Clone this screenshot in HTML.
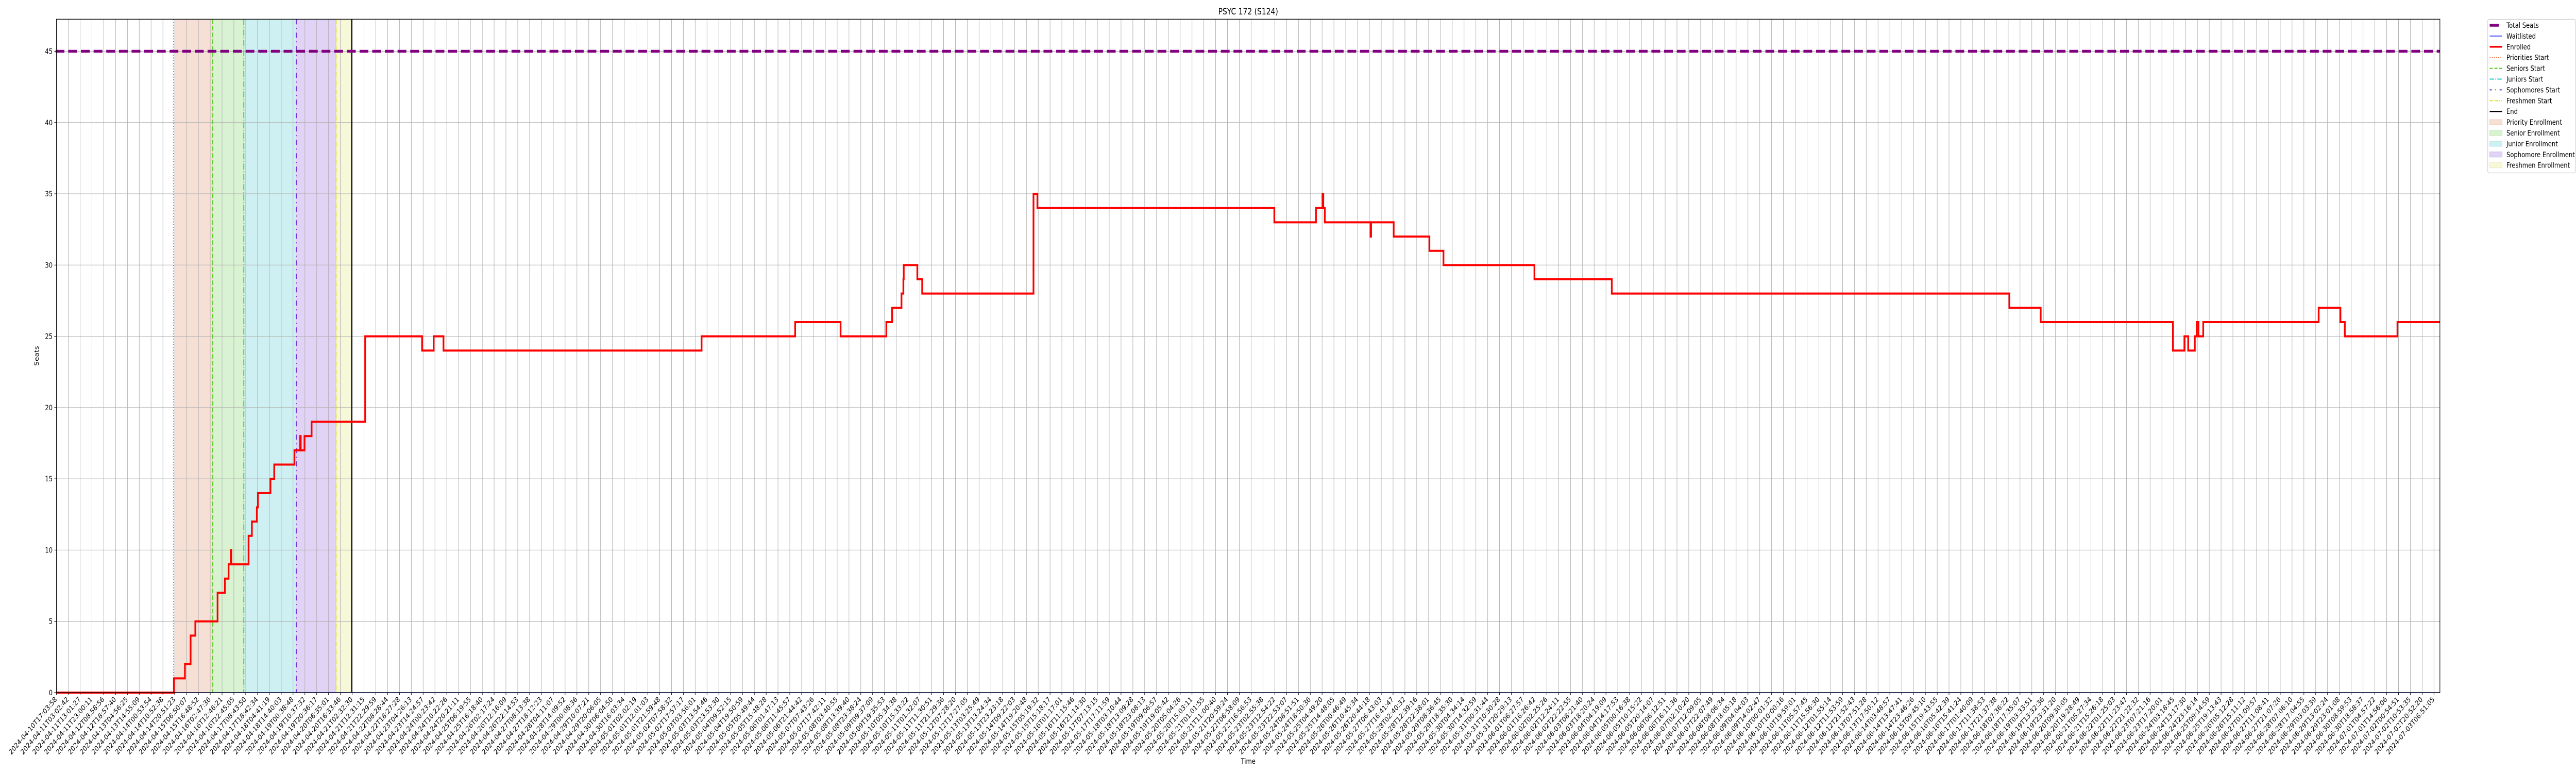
<!DOCTYPE html>
<html><head><meta charset="utf-8"><title>PSYC 172 (S124)</title>
<style>
html,body{margin:0;padding:0;background:#fff;width:100%;height:100%;overflow:hidden;}
body{font-family:"DejaVu Sans","Liberation Sans",sans-serif;}
#chart{display:block;width:100vw;height:100vh;}
svg text{font-family:"DejaVu Sans","Liberation Sans",sans-serif;fill:#000;}
</style></head>
<body>
<svg id="chart" xmlns="http://www.w3.org/2000/svg" viewBox="0 0 6000 1500" preserveAspectRatio="none">
<rect x="0" y="0" width="6000" height="1500" fill="#fff"/>
<g id="shades"></g><g id="grid"></g><g id="vlines"></g><g id="series"></g><g id="axes"></g><g id="legend"></g>
</svg>
<script>
// ---- data (x in tick-index units, y in seats) ----
const enrolledX = [0,9.93,10.86,11.34,11.74,13.62,14.24,14.55,14.74,14.78,16.24,16.52,16.94,17.03,18.09,18.41,20.12,20.60,20.65,20.97,21.57,26.10,30.91,31.89,32.72,54.54,62.45,66.29,70.16,70.65,71.44,71.60,71.63,72.78,73.19,82.60,82.93,102.96,106.48,107.03,107.10,107.23,111.10,111.14,113.05,116.07,117.26,124.95,131.49,165.10,167.75,178.93,179.90,180.22,180.78,180.94,181.09,181.49,191.25,193.09,193.46,197.91];
const enrolledY = [0,1,2,4,5,7,8,9,10,9,11,12,13,14,15,16,17,18,17,18,19,25,24,25,24,25,26,25,26,27,28,29,30,29,28,35,34,33,34,35,34,33,32,33,32,31,30,29,28,27,26,24,25,24,25,26,25,26,27,26,25,26];
const xEnd = 201.5;
const totalSeats = [45];
const waitlisted = [0];
const phaseNames = ["Priority","Senior","Junior","Sophomore","Freshmen"];
const phaseStart = [9.99,13.22,15.99,20.27,23.64];
const phaseEnd   = [13.22,15.99,20.27,23.64,24.97];
const markerX = [9.89,13.22,15.84,20.27,23.64,24.97];
const yTicks = [0,5,10,15,20,25,30,35,40,45];
const tickCount = 202;
const tickStart = "2024-04-10T17:03:58";
const tickEndLabel = "2024-07-03T06:51:05";

// ---- axes ----
const L=131.5,R=5683,T=37.3,B=1344;
const yMax=47.25, xMax=xEnd;
const xs=v=>L+(v/xMax)*(R-L);
const ys=v=>B-(v/yMax)*(B-T);
const NS="http://www.w3.org/2000/svg";
function mk(tag,attrs,parent){const e=document.createElementNS(NS,tag);for(const k in attrs)e.setAttribute(k,attrs[k]);parent.appendChild(e);return e;}
const gS=document.getElementById('shades'),gG=document.getElementById('grid'),gV=document.getElementById('vlines'),gSer=document.getElementById('series'),gA=document.getElementById('axes'),gL=document.getElementById('legend');

const shadeSolid=["#f6dfd5","#d9f3d2","#cef0f2","#e0d3f5","#f6f8d8"];
for(let i=0;i<phaseStart.length;i++){
  const r=mk('rect',{x:xs(phaseStart[i]),y:T,width:xs(phaseEnd[i])-xs(phaseStart[i]),height:B-T,fill:shadeSolid[i]},gS);
  
  
}
function labelAt(i){
  const t0=Date.parse(tickStart+"Z"),t1=Date.parse(tickEndLabel+"Z");
  const t=new Date(t0+(t1-t0)*i/(tickCount-1));
  return t.toISOString().slice(0,19);
}
for(let i=0;i<tickCount;i++){
  const x=xs(i);
  const g=mk('line',{x1:x,x2:x,y1:T,y2:B,stroke:"#b0b0b0","stroke-width":1.1},gG);
  
  
  const tk=mk('line',{x1:x,x2:x,y1:B,y2:B+5,stroke:"#000","stroke-width":1.1},gA);
  
  
  const tx=mk('text',{x:x+2,y:B+14,"font-size":13.9,"text-anchor":"end",transform:`rotate(-45 ${x+2} ${B+14})`},gA);
  tx.textContent=labelAt(i);
  
  
}
yTicks.forEach(v=>{
  const y=ys(v);
  const g=mk('line',{x1:L,x2:R,y1:y,y2:y,stroke:"#b0b0b0","stroke-width":1.1},gG);
  
  
  const tk=mk('line',{x1:L-5,x2:L,y1:y,y2:y,stroke:"#000","stroke-width":1.1},gA);
  
  
  const tx=mk('text',{x:L-9,y:y+5,"font-size":13.9,"text-anchor":"end"},gA);
  tx.textContent=String(v);
  
  
});
const mStyles=[
 {c:"#ee6a30",d:"2,3.3",w:2.2,n:"priorities-start-line"},
 {c:"#44cc11",d:"9,4",w:2.2,n:"seniors-start-line"},
 {c:"#11c8d2",d:"12,3,2,3",w:2.2,n:"juniors-start-line"},
 {c:"#6622d8",d:"10,7,2,7",w:2.2,n:"sophomores-start-line"},
 {c:"#dddd30",d:"10,2.5,2,2.5",w:2.2,n:"freshmen-start-line"},
 {c:"#000",d:"",w:2.8,n:"end-line"}];
markerX.forEach((v,i)=>{
  const s=mStyles[i];
  const a={x1:xs(v),x2:xs(v),y1:T,y2:B,stroke:s.c,"stroke-width":s.w};
  if(s.d)a["stroke-dasharray"]=s.d;
  const l=mk('line',a,gV);
  
  
});
const ts=mk('line',{x1:L-2,x2:R,y1:ys(totalSeats[0]),y2:ys(totalSeats[0]),stroke:"#800080","stroke-width":5.5,"stroke-dasharray":"20.5,9"},gSer);


const wl=mk('line',{x1:L,x2:R,y1:ys(waitlisted[0]),y2:ys(waitlisted[0]),stroke:"#2030ff","stroke-width":1.6},gSer);


let d=`M${xs(enrolledX[0])},${ys(enrolledY[0])}`;
for(let i=1;i<enrolledX.length;i++){d+=` H${xs(enrolledX[i])} V${ys(enrolledY[i])}`;}
d+=` H${xs(xEnd)}`;
const en=mk('path',{d:d,fill:"none",stroke:"#ff0000","stroke-width":4,"stroke-linejoin":"miter"},gSer);


const fr=mk('rect',{x:L,y:T,width:R-L,height:B-T,fill:"none",stroke:"#000","stroke-width":1.3},gA);


const ti=mk('text',{x:(L+R)/2,y:28,"font-size":16.7,"text-anchor":"middle"},gA);
ti.textContent="PSYC 172 (S124)";


const xt=mk('text',{x:(L+R)/2,y:1482,"font-size":13.9,"text-anchor":"middle"},gA);
xt.textContent="Time";


const yt=mk('text',{x:90,y:(T+B)/2,"font-size":13.9,"text-anchor":"middle",transform:`rotate(-90 90 ${(T+B)/2})`},gA);
yt.textContent="Seats";


const lb=mk('rect',{x:5794.5,y:37.5,width:204,height:298,rx:3,fill:"#fff",stroke:"#cccccc","stroke-width":1.2},gL);


const legItems=[
 {t:"Total Seats",k:"line",c:"#800080",w:5.5,d:""},
 {t:"Waitlisted",k:"line",c:"#2030ff",w:1.6,d:""},
 {t:"Enrolled",k:"line",c:"#ff0000",w:3.5,d:""},
 {t:"Priorities Start",k:"line",c:"#ee6a30",w:2,d:"2,3"},
 {t:"Seniors Start",k:"line",c:"#44cc11",w:2,d:"7,4"},
 {t:"Juniors Start",k:"line",c:"#11c8d2",w:2,d:"10,3,2,3"},
 {t:"Sophomores Start",k:"line",c:"#6622d8",w:2,d:"5,8,2,8"},
 {t:"Freshmen Start",k:"line",c:"#dddd30",w:2,d:"7,2,2,2"},
 {t:"End",k:"line",c:"#000",w:2.5,d:""},
 {t:"Priority Enrollment",k:"patch",c:shadeSolid[0],e:"#f0c8b8"},
 {t:"Senior Enrollment",k:"patch",c:shadeSolid[1],e:"#bfe8b4"},
 {t:"Junior Enrollment",k:"patch",c:shadeSolid[2],e:"#b0e4e8"},
 {t:"Sophomore Enrollment",k:"patch",c:shadeSolid[3],e:"#cbb6ee"},
 {t:"Freshmen Enrollment",k:"patch",c:shadeSolid[4],e:"#eaeeb8"}];
legItems.forEach((it,i)=>{
  const cy=49+i*20.9;
  const g=mk('g',{},gL);
  
  
  if(it.k==="line"){
    const a={x1:5799,x2:5828,y1:cy,y2:cy,stroke:it.c,"stroke-width":it.w};
    if(it.d)a["stroke-dasharray"]=it.d;
    if(i===0){a.x2=5820;}
    mk('line',a,g);
  } else {
    mk('rect',{x:5799,y:cy-5,width:29,height:10,fill:it.c,stroke:it.e,"stroke-width":1},g);
  }
  const tx=mk('text',{x:5838,y:cy+5,"font-size":13.9},g);
  tx.textContent=it.t;
});
</script>
</body></html>
